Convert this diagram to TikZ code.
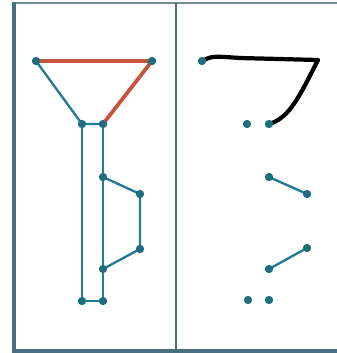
\documentclass[tikz,border=0pt]{standalone}
\usepackage{tikz}
\usetikzlibrary{backgrounds}
\definecolor{framec}{RGB}{72,112,128}
\definecolor{topc}{RGB}{120,140,150}
\definecolor{tealc}{RGB}{34,122,150}
\definecolor{dotc}{RGB}{30,110,128}
\definecolor{redc}{RGB}{196,84,62}
\tikzstyle{dot} = [circle, fill=dotc, inner sep=0pt, minimum size=0.25cm]
\tikzstyle{edge} = [draw=tealc, line width=2pt]
\tikzstyle{redge} = [draw=redc, line width=3.2pt]
\tikzstyle{pen} = [draw=black, line width=3.6pt, line cap=round, line join=round]

\begin{document}
\begin{tikzpicture}[x=0.03cm, y=-0.03cm]
  \useasboundingbox (0,0) rectangle (337,353);
  % Khung
  \draw[topc, line width=1.6pt] (337,3) -- (14,3);
  \draw[framec, line width=2.6pt] (14,2) -- (14,351) -- (337,351);
  \draw[framec, line width=1.6pt] (176,3) -- (176,351);

  % Hình trái
  \node[dot] (a) at (36,61) {};
  \node[dot] (b) at (152,61) {};
  \node[dot] (c) at (82,124) {};
  \node[dot] (d) at (103,124) {};
  \node[dot] (e) at (103,177) {};
  \node[dot] (f) at (140,194) {};
  \node[dot] (g) at (140,249) {};
  \node[dot] (h) at (103,269) {};
  \node[dot] (i) at (82,301) {};
  \node[dot] (j) at (103,301) {};

  % Hình phải
  \node[dot] (ra) at (202,61) {};
  \node[dot] (rc) at (247,124) {};
  \node[dot] (rd) at (269,124) {};
  \node[dot] (re) at (269,177) {};
  \node[dot] (rf) at (307,194) {};
  \node[dot] (rg) at (307,248) {};
  \node[dot] (rh) at (269,269) {};
  \node[dot] (ri) at (248,300) {};
  \node[dot] (rj) at (269,300) {};
  \coordinate (rb) at (318,60);

  \begin{scope}[on background layer]
    % Cạnh đỏ
    \draw[redge] (a.center) -- (b.center) -- (d.center);
    % Cạnh xanh
    \draw[edge] (a.center) -- (c.center) -- (d.center);
    \draw[edge] (c.center) -- (i.center) -- (j.center) -- (d.center);
    \draw[edge] (e.center) -- (f.center) -- (g.center) -- (h.center);
    \draw[edge] (re.center) -- (rf.center);
    \draw[edge] (rg.center) -- (rh.center);
    % Nét vẽ tay
    \draw[pen] (ra.center) .. controls (212,56) .. (240,58) -- (rb) .. controls (300,95) and (290,118) .. (rd.center);
  \end{scope}
\end{tikzpicture}
\end{document}
